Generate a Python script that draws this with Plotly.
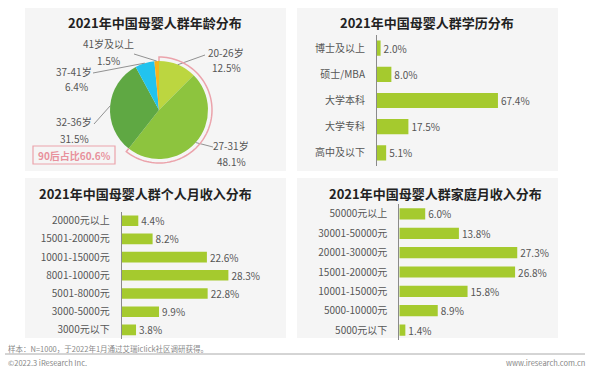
import numpy as np
import plotly.graph_objects as go

# ---------------- data ----------------
age_labels = ["20-26岁", "27-31岁", "32-36岁", "37-41岁", "41岁及以上"]
age_values = [12.5, 48.1, 31.5, 6.4, 1.5]
age_colors = ["#bcd640", "#8dc43e", "#5fa843", "#22c3ee", "#f6b41c"]

edu_labels = ["博士及以上", "硕士/MBA", "大学本科", "大学专科", "高中及以下"]
edu_values = [2.0, 8.0, 67.4, 17.5, 5.1]

pinc_labels = ["20000元以上", "15001-20000元", "10001-15000元", "8001-10000元",
               "5001-8000元", "3000-5000元", "3000元以下"]
pinc_values = [4.4, 8.2, 22.6, 28.3, 22.8, 9.9, 3.8]

finc_labels = ["50000元以上", "30001-50000元", "20001-30000元", "15001-20000元",
               "10001-15000元", "5000-10000元", "5000元以下"]
finc_values = [6.0, 13.8, 27.3, 26.8, 15.8, 8.9, 1.4]

titles = ["2021年中国母婴人群年龄分布", "2021年中国母婴人群学历分布",
          "2021年中国母婴人群个人月收入分布", "2021年中国母婴人群家庭月收入分布"]

W, H = 600, 371
FONT = "Noto Sans CJK SC"
BAR_COLOR = "#a5ca2e"
TXT = "#555555"


def X(px):
    return px / W


def Y(py):
    return 1 - py / H


fig = go.Figure()

# ---------------- panels ----------------
panels = [(25, 8, 286, 171), (297, 8, 558, 171), (25, 178, 286, 338), (297, 178, 558, 338)]
shapes = []
for x0, y0, x1, y1 in panels:
    shapes.append(dict(type="rect", xref="paper", yref="paper", x0=X(x0), x1=X(x1),
                       y0=Y(y1), y1=Y(y0), fillcolor="#f5f5f5", line_width=0, layer="below"))

annotations = []
title_pos = [(155, 22), (427, 22), (145, 193), (435, 193)]
for t, (tx, ty) in zip(titles, title_pos):
    annotations.append(dict(text="<b>" + t + "</b>", x=X(tx), y=Y(ty), xref="paper", yref="paper",
                            showarrow=False, xanchor="center", yanchor="middle",
                            font=dict(family=FONT, size=13, color="#222222")))

# ---------------- pie ----------------
cx, cy, r = 159, 110, 49
fig.add_trace(go.Pie(labels=age_labels, values=age_values, sort=False, direction="clockwise",
                     rotation=0, marker=dict(colors=age_colors, line=dict(width=0)),
                     textinfo="none", showlegend=False,
                     domain=dict(x=[X(cx - r), X(cx + r)], y=[Y(cy + r), Y(cy - r)])))

vals = np.array(age_values)
cum = np.cumsum(vals) / vals.sum() * 360
mids = cum - vals / vals.sum() * 180

# label layout (text centre positions + leader line outer end)
label_pos = {
    "20-26岁": ((226, 52), (226, 68), (205, 55)),
    "27-31岁": ((231, 145), (231, 161), (213, 147)),
    "32-36岁": ((74, 122), (74, 138), (94, 124)),
    "37-41岁": ((74, 71), (76, 87), (93, 73)),
    "41岁及以上": ((108, 44), (108, 61), (134, 54)),
}
for lab, v, m in zip(age_labels, age_values, mids):
    (l1x, l1y), (l2x, l2y), (ex, ey) = label_pos[lab]
    th = np.deg2rad(m)
    px, py = cx + r * np.sin(th), cy - r * np.cos(th)
    shapes.append(dict(type="line", xref="paper", yref="paper", x0=X(ex), y0=Y(ey),
                       x1=X(px), y1=Y(py), line=dict(color="#777777", width=0.8)))
    annotations.append(dict(text=lab, x=X(l1x), y=Y(l1y), xref="paper", yref="paper",
                            showarrow=False, xanchor="center", yanchor="middle",
                            font=dict(family=FONT, size=10, color=TXT)))
    annotations.append(dict(text=f"{v:.1f}%", x=X(l2x), y=Y(l2y), xref="paper", yref="paper",
                            showarrow=False, xanchor="center", yanchor="middle",
                            font=dict(family=FONT, size=10, color=TXT)))

# pink arc around 90后 share (first two slices)
share90 = age_values[0] + age_values[1]
th_end = share90 / vals.sum() * 2 * np.pi
ra, r0 = 53, 49
ths = np.linspace(0, th_end, 80)
pts = [(cx + r0 * np.sin(0), cy - r0 * np.cos(0))]
pts += [(cx + ra * np.sin(t), cy - ra * np.cos(t)) for t in ths]
pts += [(cx + r0 * np.sin(th_end), cy - r0 * np.cos(th_end))]
path = "M " + " L ".join(f"{X(a):.5f},{Y(b):.5f}" for a, b in pts)
shapes.append(dict(type="path", xref="paper", yref="paper", path=path,
                   line=dict(color="#eba3ab", width=1.5)))

# 90后 box
shapes.append(dict(type="rect", xref="paper", yref="paper", x0=X(33), x1=X(115), y0=Y(164), y1=Y(146),
                   line=dict(color="#eba3ab", width=1.2), fillcolor="rgba(0,0,0,0)"))
annotations.append(dict(text=f"<b>90后占比{share90:.1f}%</b>", x=X(74), y=Y(155), xref="paper", yref="paper",
                        showarrow=False, xanchor="center", yanchor="middle",
                        font=dict(family=FONT, size=10, color="#e8919c")))


# ---------------- bars ----------------
def add_bars(labels, values, xa, ya):
    fig.add_trace(go.Bar(y=labels, x=values, orientation="h", marker=dict(color=BAR_COLOR, line_width=0),
                         text=[f"{v:.1f}%" for v in values], textposition="outside",
                         textfont=dict(family=FONT, size=10, color=TXT), constraintext="none",
                         cliponaxis=False, showlegend=False, xaxis=xa, yaxis=ya))


add_bars(edu_labels, edu_values, "x", "y")
add_bars(pinc_labels, pinc_values, "x2", "y2")
add_bars(finc_labels, finc_values, "x3", "y3")

axis_y = dict(type="category", autorange="reversed", showline=True, linecolor="#8a8a8a", linewidth=1,
              showgrid=False, zeroline=False, ticks="", ticklabelstandoff=9,
              tickfont=dict(family=FONT, size=10, color=TXT))
axis_x = dict(visible=False, showgrid=False, zeroline=False)

fig.update_layout(
    width=W, height=H, margin=dict(l=0, r=0, t=0, b=0),
    paper_bgcolor="white", plot_bgcolor="rgba(0,0,0,0)",
    bargap=0.42,
    xaxis=dict(axis_x, domain=[X(377), X(538.5)], range=[0, 90], anchor="y"),
    yaxis=dict(axis_y, domain=[Y(166), Y(35)], anchor="x"),
    xaxis2=dict(axis_x, domain=[X(121.7), X(272.5)], range=[0, 40], anchor="y2"),
    yaxis2=dict(axis_y, domain=[Y(339), Y(211.6)], anchor="x2"),
    xaxis3=dict(axis_x, domain=[X(399.3), X(550.5)], range=[0, 35], anchor="y3"),
    yaxis3=dict(axis_y, domain=[Y(339.7), Y(204.3)], anchor="x3"),
)

# ---------------- footer ----------------
shapes.append(dict(type="line", xref="paper", yref="paper", x0=X(5), x1=X(585), y0=Y(354), y1=Y(354),
                   line=dict(color="#aaaaaa", width=1)))
annotations.append(dict(text="样本：N=1000，于2022年1月通过艾瑞iclick社区调研获得。", x=X(6), y=Y(348),
                        xref="paper", yref="paper", showarrow=False, xanchor="left", yanchor="middle",
                        font=dict(family=FONT, size=7.5, color="#888888")))
annotations.append(dict(text="©2022.3 iResearch Inc.", x=X(6), y=Y(362),
                        xref="paper", yref="paper", showarrow=False, xanchor="left", yanchor="middle",
                        font=dict(family=FONT, size=7.5, color="#888888")))
annotations.append(dict(text="www.iresearch.com.cn", x=X(587), y=Y(362),
                        xref="paper", yref="paper", showarrow=False, xanchor="right", yanchor="middle",
                        font=dict(family=FONT, size=7.5, color="#888888")))

fig.update_layout(shapes=shapes, annotations=annotations)
fig.write_html("out.html", config=dict(displayModeBar=False),
               post_script="document.body.style.margin='0';document.body.style.overflow='hidden';")
